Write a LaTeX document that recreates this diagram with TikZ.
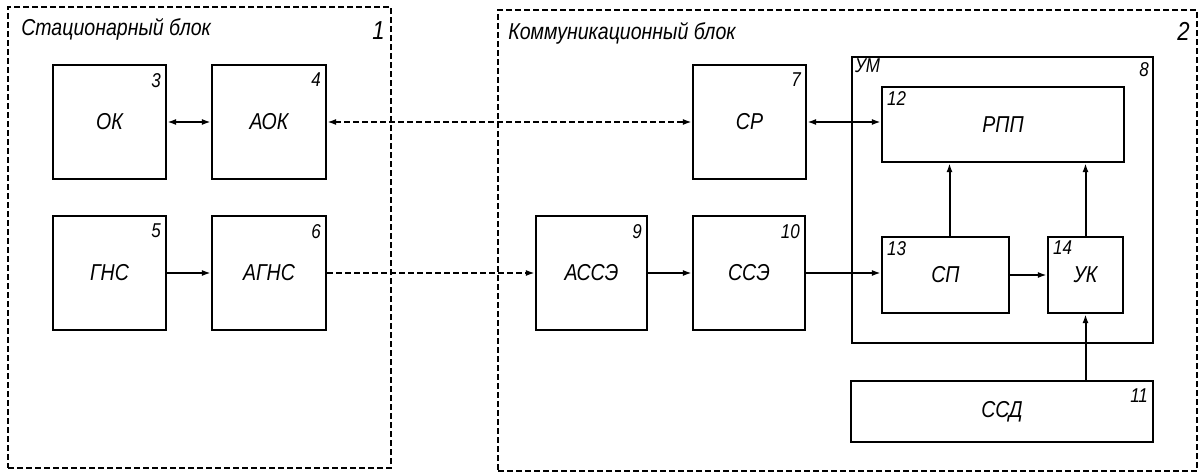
\documentclass[tikz,border=0pt]{standalone}
\usepackage{fontspec}
\setmainfont{Liberation Sans}[FakeStretch=0.85]
\usetikzlibrary{arrows.meta}
\begin{document}
\begin{tikzpicture}[x=1pt,y=-1pt,
  blk/.style={draw, line width=2.2pt, inner sep=0pt, font=\fontsize{23}{26}\selectfont\itshape},
  grp/.style={draw, line width=1.8pt, dash pattern=on 6pt off 3pt, inner sep=0pt},
  num/.style={inner sep=0pt, font=\fontsize{20}{22}\selectfont\itshape},
  ttl/.style={inner sep=0pt, font=\fontsize{23}{26}\selectfont\itshape},
  big/.style={inner sep=0pt, font=\fontsize{26}{28}\selectfont\itshape},
  nr/.style={label={[num, anchor=north east, xshift=-6pt, yshift=-9pt]north east:#1}},
  nl/.style={label={[num, anchor=north west, xshift=6pt, yshift=-5pt]north west:#1}},
  tip/.tip={Latex[length=9pt,width=6pt]},
  ar/.style={line width=2pt, -tip},
  ar2/.style={line width=2pt, tip-tip},
  dar/.style={line width=1.8pt, dash pattern=on 6pt off 3pt, -tip},
  dar2/.style={line width=1.8pt, dash pattern=on 6pt off 3pt, tip-tip},
]
\useasboundingbox (0,0) rectangle (1200,474);
% groups
\node[grp, minimum width=383, minimum height=461,
  label={[ttl, anchor=north west, xshift=14pt, yshift=-12pt]north west:Стационарный блок},
  label={[big, anchor=north east, xshift=-7pt, yshift=-15pt]north east:1}] (g1) at (199.5,237.5) {};
\node[grp, minimum width=699, minimum height=461,
  label={[ttl, anchor=north west, xshift=11pt, yshift=-13pt]north west:Коммуникационный блок},
  label={[big, anchor=north east, xshift=-8pt, yshift=-13pt]north east:2}] (g2) at (847.5,240.5) {};
% stationary block
\node[blk, minimum width=113, minimum height=114, nr=3] (n3) at (109.5,122) {ОК};
\node[blk, minimum width=114, minimum height=114, nr=4] (n4) at (269,122) {АОК};
\node[blk, minimum width=113, minimum height=114, nr=5] (n5) at (109.5,273) {ГНС};
\node[blk, minimum width=114, minimum height=114, nr=6] (n6) at (269,273) {АГНС};
% communication block
\node[blk, minimum width=113, minimum height=114, nr=7] (n7) at (749.5,122) {СР};
\node[blk, minimum width=111, minimum height=114, nr=9] (n9) at (591.5,273) {АССЭ};
\node[blk, minimum width=112, minimum height=114, nr=10] (n10) at (749,273) {ССЭ};
\node[blk, minimum width=301, minimum height=286,
  label={[num, anchor=north west, xshift=4pt, yshift=-3pt]north west:УМ},
  label={[num, anchor=north east, xshift=-5pt, yshift=-6pt]north east:8}] (n8) at (1002.5,200) {};
\node[blk, minimum width=242, minimum height=75, nl=12] (n12) at (1003,124.5) {РПП};
\node[blk, minimum width=127, minimum height=76, nl=13] (n13) at (945.5,275) {СП};
\node[blk, minimum width=75, minimum height=76, nl=14] (n14) at (1085.5,275) {УК};
\node[blk, minimum width=302, minimum height=61, nr=11] (n11) at (1002,411.5) {ССД};
% connectors
\draw[ar2] (n3) -- (n4);
\draw[dar2] (n4) -- (n7);
\draw[ar2] (n7.east) -- (n7.east -| n12.west);
\draw[ar] (n5) -- (n6);
\draw[dar] (n6) -- (n9);
\draw[ar] (n9) -- (n10);
\draw[ar] (n10.east) -- (n10.east -| n13.west);
\draw[ar] (n13) -- (n14);
\draw[ar] ([xshift=4pt]n13.north) -- ([xshift=4pt]n13.north |- n12.south);
\draw[ar] (n14.north) -- (n14.north |- n12.south);
\draw[ar] (n14.south |- n11.north) -- (n14.south);
\end{tikzpicture}
\end{document}
